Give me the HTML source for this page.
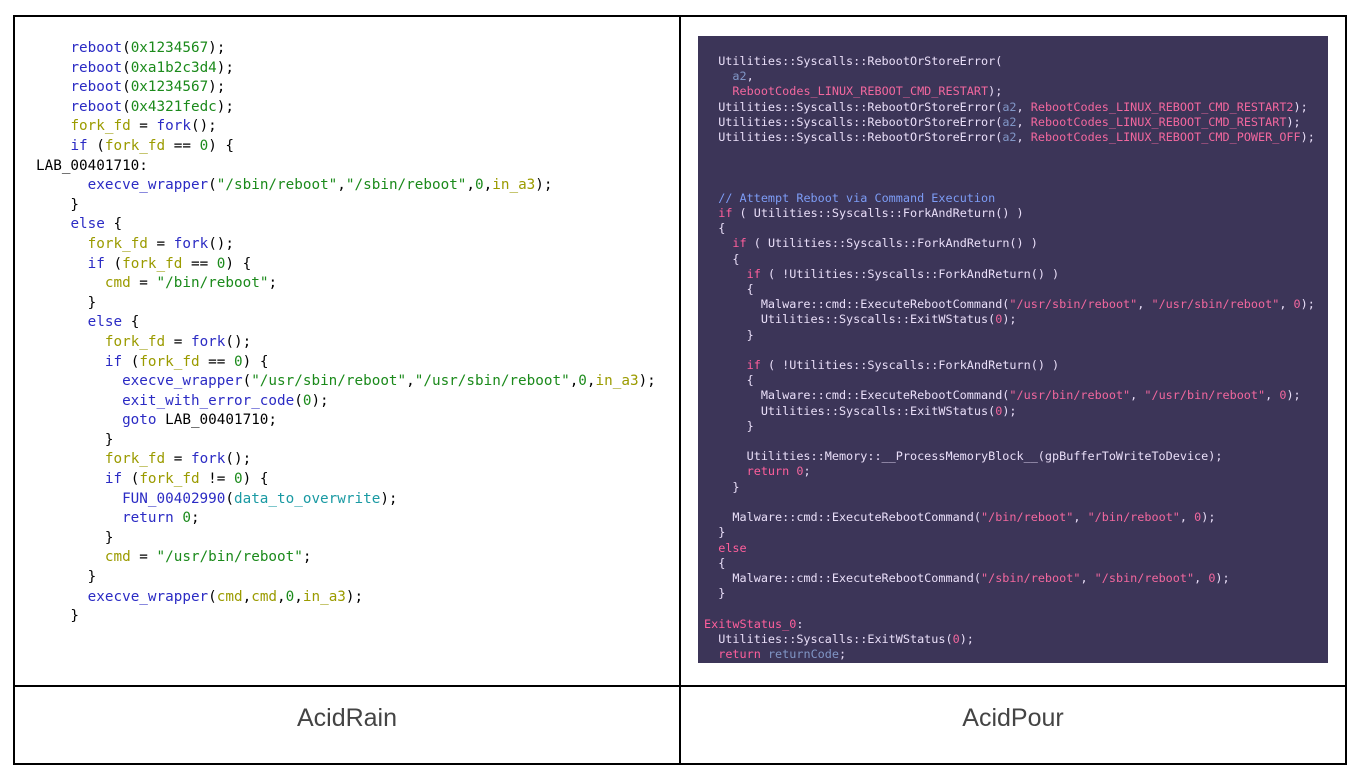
<!DOCTYPE html>
<html><head><meta charset="utf-8"><style>
body{margin:0;width:1358px;height:780px;background:#fff;position:relative;overflow:hidden}
.b{position:absolute;background:#000}
pre{margin:0;position:absolute;white-space:pre}
#L{left:36px;top:39px;font:14.3px/19.6px "DejaVu Sans Mono",monospace;color:#000}
.f{color:#2b2bc4}.n{color:#1b8a1b}.v{color:#9b9b00}.c{color:#1a9aa3}
#P{position:absolute;left:698px;top:36px;width:630px;height:627px;background:#3c3558}
#R{left:704px;top:54px;font:11.8px/15.2px "DejaVu Sans Mono",monospace;color:#e9def8}
.k{color:#ff5f9c}.s{color:#f2679e}.a{color:#8196c6}.m{color:#7d9cf5}
.lab{position:absolute;top:704px;font:25px "Liberation Sans",sans-serif;color:#444;text-align:center;width:666px}
</style></head><body>
<div class="b" style="left:14px;top:15px;width:1333px;height:2px"></div>
<div class="b" style="left:14px;top:685px;width:1333px;height:2px"></div>
<div class="b" style="left:14px;top:763px;width:1333px;height:2px"></div>
<div class="b" style="left:13px;top:15px;width:2px;height:750px"></div>
<div class="b" style="left:679px;top:15px;width:2px;height:750px"></div>
<div class="b" style="left:1345px;top:15px;width:2px;height:750px"></div>
<pre id="L">    <span class="f">reboot</span>(<span class="n">0x1234567</span>);
    <span class="f">reboot</span>(<span class="n">0xa1b2c3d4</span>);
    <span class="f">reboot</span>(<span class="n">0x1234567</span>);
    <span class="f">reboot</span>(<span class="n">0x4321fedc</span>);
    <span class="v">fork_fd</span> = <span class="f">fork</span>();
    <span class="f">if</span> (<span class="v">fork_fd</span> == <span class="n">0</span>) {
LAB_00401710:
      <span class="f">execve_wrapper</span>(<span class="n">"/sbin/reboot"</span>,<span class="n">"/sbin/reboot"</span>,<span class="n">0</span>,<span class="v">in_a3</span>);
    }
    <span class="f">else</span> {
      <span class="v">fork_fd</span> = <span class="f">fork</span>();
      <span class="f">if</span> (<span class="v">fork_fd</span> == <span class="n">0</span>) {
        <span class="v">cmd</span> = <span class="n">"/bin/reboot"</span>;
      }
      <span class="f">else</span> {
        <span class="v">fork_fd</span> = <span class="f">fork</span>();
        <span class="f">if</span> (<span class="v">fork_fd</span> == <span class="n">0</span>) {
          <span class="f">execve_wrapper</span>(<span class="n">"/usr/sbin/reboot"</span>,<span class="n">"/usr/sbin/reboot"</span>,<span class="n">0</span>,<span class="v">in_a3</span>);
          <span class="f">exit_with_error_code</span>(<span class="n">0</span>);
          <span class="f">goto</span> LAB_00401710;
        }
        <span class="v">fork_fd</span> = <span class="f">fork</span>();
        <span class="f">if</span> (<span class="v">fork_fd</span> != <span class="n">0</span>) {
          <span class="f">FUN_00402990</span>(<span class="c">data_to_overwrite</span>);
          <span class="f">return</span> <span class="n">0</span>;
        }
        <span class="v">cmd</span> = <span class="n">"/usr/bin/reboot"</span>;
      }
      <span class="f">execve_wrapper</span>(<span class="v">cmd</span>,<span class="v">cmd</span>,<span class="n">0</span>,<span class="v">in_a3</span>);
    }</pre>
<div id="P"></div>
<pre id="R">  Utilities::Syscalls::RebootOrStoreError(
    <span class="a">a2</span>,
    <span class="s">RebootCodes_LINUX_REBOOT_CMD_RESTART</span>);
  Utilities::Syscalls::RebootOrStoreError(<span class="a">a2</span>, <span class="s">RebootCodes_LINUX_REBOOT_CMD_RESTART2</span>);
  Utilities::Syscalls::RebootOrStoreError(<span class="a">a2</span>, <span class="s">RebootCodes_LINUX_REBOOT_CMD_RESTART</span>);
  Utilities::Syscalls::RebootOrStoreError(<span class="a">a2</span>, <span class="s">RebootCodes_LINUX_REBOOT_CMD_POWER_OFF</span>);



  <span class="m">// Attempt Reboot via Command Execution</span>
  <span class="k">if</span> ( Utilities::Syscalls::ForkAndReturn() )
  {
    <span class="k">if</span> ( Utilities::Syscalls::ForkAndReturn() )
    {
      <span class="k">if</span> ( !Utilities::Syscalls::ForkAndReturn() )
      {
        Malware::cmd::ExecuteRebootCommand(<span class="s">"/usr/sbin/reboot"</span>, <span class="s">"/usr/sbin/reboot"</span>, <span class="s">0</span>);
        Utilities::Syscalls::ExitWStatus(<span class="s">0</span>);
      }

      <span class="k">if</span> ( !Utilities::Syscalls::ForkAndReturn() )
      {
        Malware::cmd::ExecuteRebootCommand(<span class="s">"/usr/bin/reboot"</span>, <span class="s">"/usr/bin/reboot"</span>, <span class="s">0</span>);
        Utilities::Syscalls::ExitWStatus(<span class="s">0</span>);
      }

      Utilities::Memory::__ProcessMemoryBlock__(gpBufferToWriteToDevice);
      <span class="k">return</span> <span class="s">0</span>;
    }

    Malware::cmd::ExecuteRebootCommand(<span class="s">"/bin/reboot"</span>, <span class="s">"/bin/reboot"</span>, <span class="s">0</span>);
  }
  <span class="k">else</span>
  {
    Malware::cmd::ExecuteRebootCommand(<span class="s">"/sbin/reboot"</span>, <span class="s">"/sbin/reboot"</span>, <span class="s">0</span>);
  }

<span class="k">ExitwStatus_0</span>:
  Utilities::Syscalls::ExitWStatus(<span class="s">0</span>);
  <span class="k">return</span> <span class="a">returnCode</span>;</pre>
<div class="lab" style="left:14px">AcidRain</div>
<div class="lab" style="left:680px">AcidPour</div>
</body></html>
